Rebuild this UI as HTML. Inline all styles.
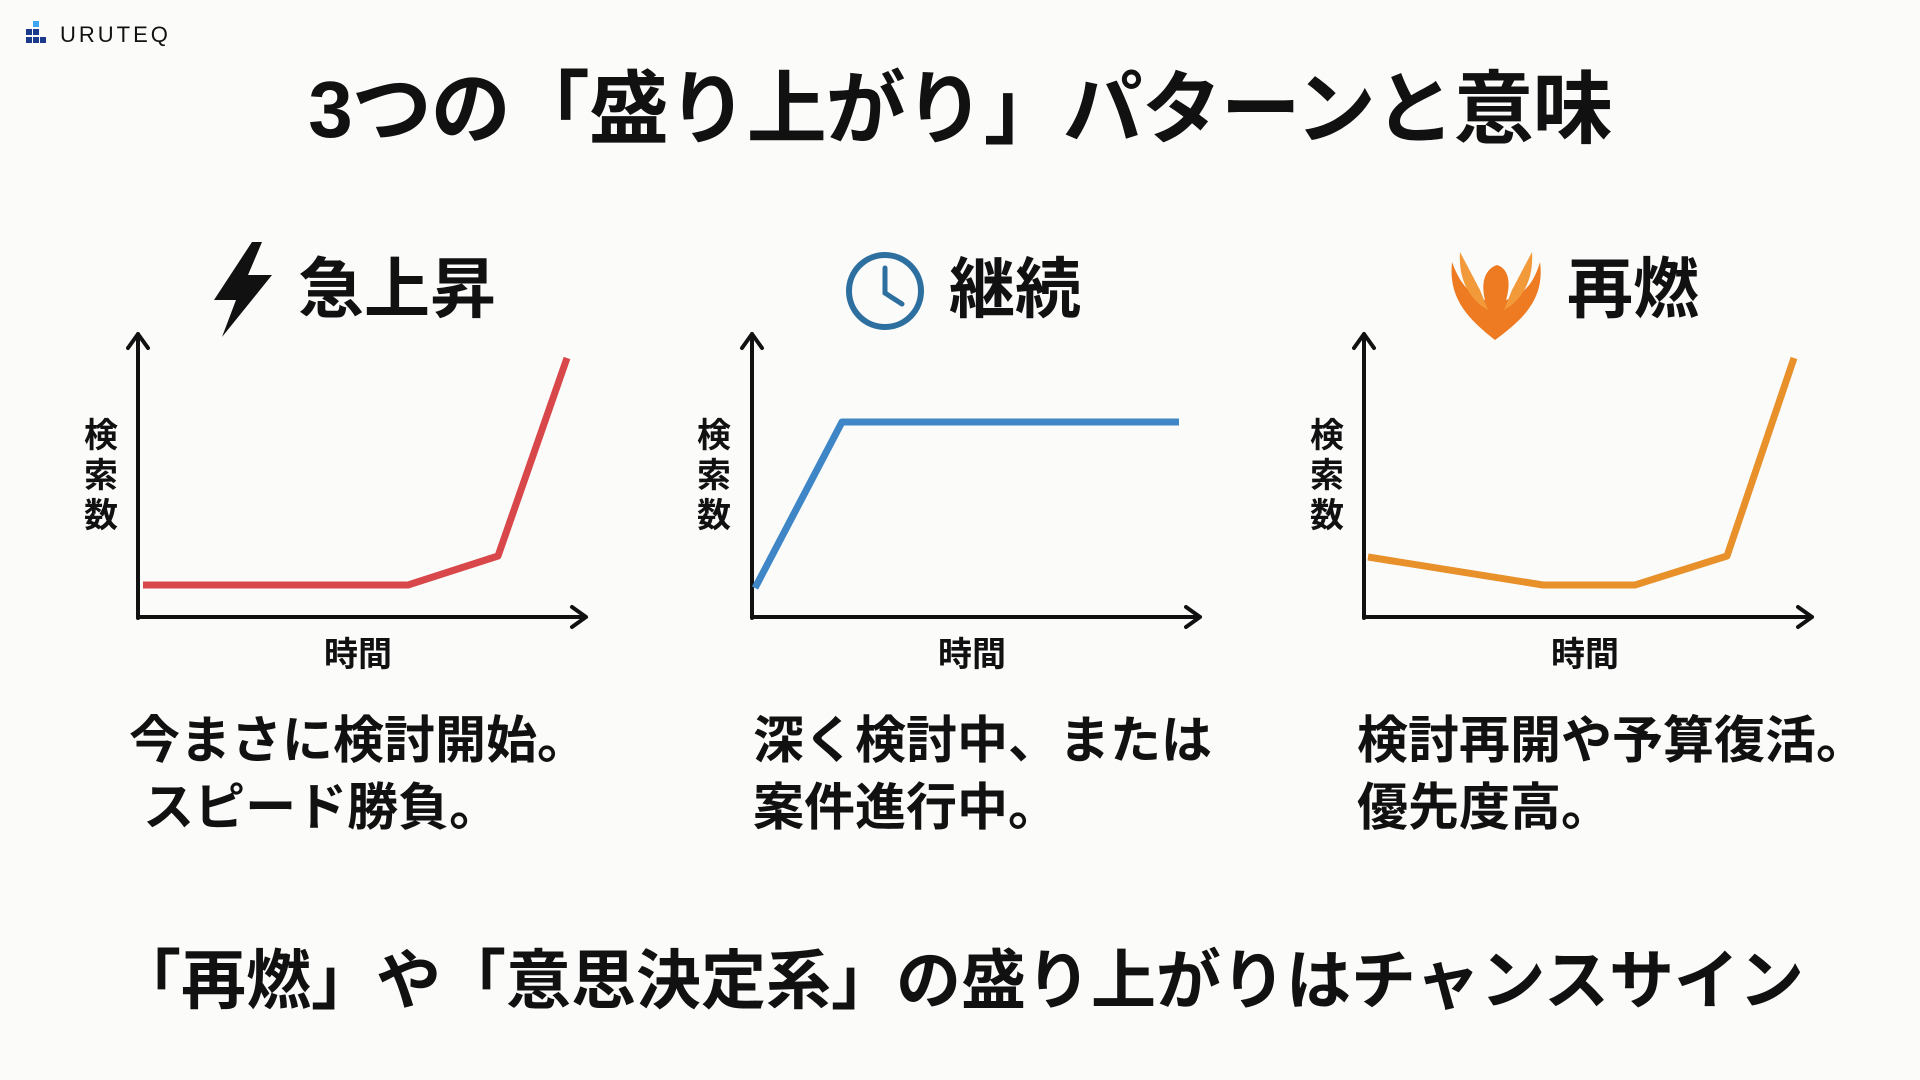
<!DOCTYPE html>
<html><head><meta charset="utf-8"><style>
body{margin:0;width:1920px;height:1080px;background:#fbfbfa;overflow:hidden;position:relative;font-family:"Liberation Sans","Noto Sans CJK JP",sans-serif;color:#111}
.t{position:absolute;white-space:nowrap;font-weight:bold;line-height:1}
svg{position:absolute;left:0;top:0}
</style></head><body>
<svg width="1920" height="1080" viewBox="0 0 1920 1080">
<rect x="33" y="21" width="6" height="6" fill="#3ca7f0"/>
<rect x="26" y="29" width="6" height="6" fill="#1a3a8c"/><rect x="33" y="29" width="6" height="6" fill="#1a3a8c"/>
<rect x="26" y="37" width="6" height="6" fill="#1a3a8c"/><rect x="33" y="37" width="6" height="6" fill="#1a3a8c"/><rect x="40" y="37" width="6" height="6" fill="#1a3a8c"/>
<g stroke="#111" stroke-width="4" fill="none" stroke-linecap="round" stroke-linejoin="round">
<path d="M138 618 V334 M128 348 L138 334 L148 348"/><path d="M138 617 H586 M572 607 L586 617 L572 627"/>
<path d="M752 618 V334 M742 348 L752 334 L762 348"/><path d="M752 617 H1200 M1186 607 L1200 617 L1186 627"/>
<path d="M1364 618 V334 M1354 348 L1364 334 L1374 348"/><path d="M1364 617 H1812 M1798 607 L1812 617 L1798 627"/>
</g>
<g fill="none" stroke-width="7" stroke-linejoin="round">
<polyline points="143,585 408,585 498,556 567,358" stroke="#d8474a"/>
<polyline points="755,588 842,422 1179,422" stroke="#3e86c6"/>
<polyline points="1368,557 1543,585 1635,585 1727,556 1794,358" stroke="#e8902a"/>
</g>
<polygon points="252,242 214,300 236,300 222,337 272,275 248,275 262,242" fill="#111"/>
<circle cx="885" cy="291" r="36" fill="none" stroke="#2d6f9e" stroke-width="6"/>
<path d="M885 268 V293 L902 304" fill="none" stroke="#2d6f9e" stroke-width="5" stroke-linecap="round"/>
<path d="M1495 340 C1470 320 1448 300 1452 262 C1462 290 1475 296 1485 300 C1480 280 1487 268 1497 265 C1507 268 1512 280 1506 300 C1518 296 1532 290 1540 262 C1545 300 1522 320 1495 340 Z" fill="#ee7a22"/>
<path d="M1460 252 C1458 280 1470 300 1488 310 L1480 290 Z M1532 252 C1534 280 1522 300 1504 310 L1512 290 Z" fill="#f29a3a"/>
</svg>
<div class="t" style="left:60px;top:24px;font-size:22px;font-weight:normal;letter-spacing:3px">URUTEQ</div>
<div class="t" style="left:0;width:1920px;text-align:center;top:70px;font-size:80px;letter-spacing:-1px">3つの「盛り上がり」パターンと意味</div>
<div class="t" style="left:298px;top:256px;font-size:66px">急上昇</div>
<div class="t" style="left:949px;top:256px;font-size:66px">継続</div>
<div class="t" style="left:1567px;top:256px;font-size:66px">再燃</div>
<div class="t" style="left:84px;top:416px;font-size:34px;width:34px;line-height:40px;white-space:normal">検索数</div>
<div class="t" style="left:697px;top:416px;font-size:34px;width:34px;line-height:40px;white-space:normal">検索数</div>
<div class="t" style="left:1310px;top:416px;font-size:34px;width:34px;line-height:40px;white-space:normal">検索数</div>
<div class="t" style="left:324px;top:638px;font-size:34px">時間</div>
<div class="t" style="left:938px;top:638px;font-size:34px">時間</div>
<div class="t" style="left:1551px;top:638px;font-size:34px">時間</div>
<div class="t" style="left:129px;top:707px;font-size:51px;line-height:67px">今まさに検討開始。<br>&nbsp;スピード勝負。</div>
<div class="t" style="left:753px;top:707px;font-size:51px;line-height:67px">深く検討中、または<br>案件進行中。</div>
<div class="t" style="left:1357px;top:707px;font-size:51px;line-height:67px">検討再開や予算復活。<br>優先度高。</div>
<div class="t" style="left:0;width:1920px;text-align:center;top:948px;font-size:65px">「再燃」や「意思決定系」の盛り上がりはチャンスサイン</div>
</body></html>
